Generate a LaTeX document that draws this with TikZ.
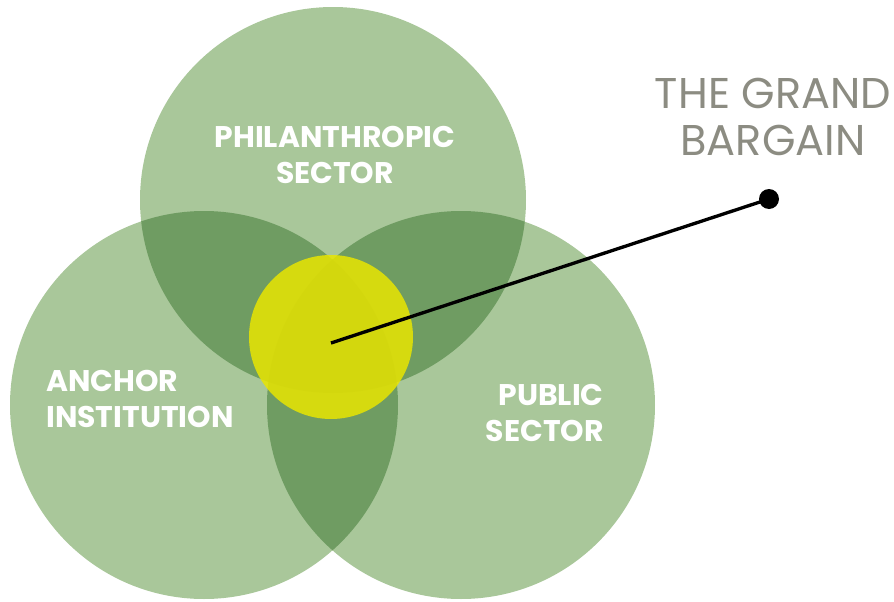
\documentclass[tikz,border=0pt]{standalone}
\usepackage{fontspec}
\setmainfont{Poppins}
\usetikzlibrary{positioning}
\definecolor{venngreen}{RGB}{169,199,154}
\definecolor{venndark}{RGB}{111,156,98}
\definecolor{venncore}{RGB}{96,141,84}
\definecolor{grandyellow}{RGB}{234,230,0}
\definecolor{titlegray}{RGB}{140,140,130}
\tikzset{
	sectortext/.style = {text=white, font=\fontsize{17}{20}\selectfont\bfseries, inner sep=0pt},
	titletext/.style = {text=titlegray, align=center, font=\fontsize{24.5}{27}\selectfont, inner sep=0pt},
	pindot/.style = {circle, fill=black, minimum size=20*0.02cm, inner sep=0pt},
	pinline/.style = {draw=black, line width=1.9pt}
}

\begin{document}
\begin{tikzpicture}[x=0.02cm, y=-0.02cm]
		
		% Frame
		\useasboundingbox (0,0) rectangle (894,602);
		
		% Level 0: the three sectors
		\fill[venngreen] (333,200) circle[radius=193];
		\fill[venngreen] (204,405) circle[radius=194];
		\fill[venngreen] (461,405) circle[radius=194];
		
		% Level 1: pairwise overlaps
		\begin{scope}
			\clip (333,200) circle[radius=193];
			\fill[venndark] (204,405) circle[radius=194];
			\fill[venndark] (461,405) circle[radius=194];
		\end{scope}
		\begin{scope}
			\clip (204,405) circle[radius=194];
			\fill[venndark] (461,405) circle[radius=194];
			% Level 2: all three
			\clip (461,405) circle[radius=194];
			\fill[venncore] (333,200) circle[radius=193];
		\end{scope}
		
		% The grand bargain
		\fill[grandyellow, opacity=0.84] (331,337) circle[radius=82];
		
		% Labels
		\node (philanthropic) [sectortext, align=center] at (335,155) {PHILANTHROPIC\\SECTOR};
		\node (anchor) [sectortext, align=left, anchor=west] at (46,399) {ANCHOR\\INSTITUTION};
		\node (public) [sectortext, align=right, anchor=east] at (604,413) {PUBLIC\\SECTOR};
		\node (title) [titletext] at (773,117) {THE GRAND\\BARGAIN};
		
		% Pointer
		\coordinate (core) at (331,343);
		\node (pin) [pindot] at (769,199) {};
		\draw [pinline] (core) -- (pin.center);
		
	\end{tikzpicture}
\end{document}
